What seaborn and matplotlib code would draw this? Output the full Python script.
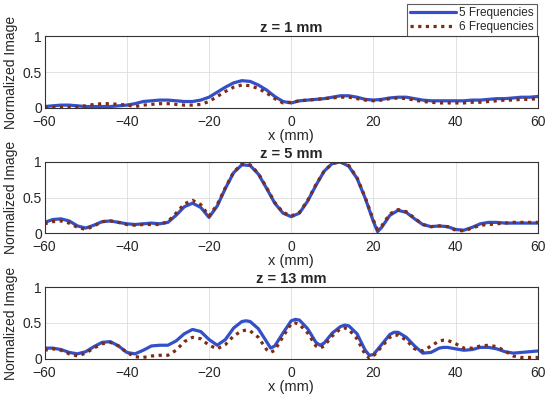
import numpy as np
import pandas as pd
import matplotlib
matplotlib.use('Agg')
import matplotlib.pyplot as plt
import seaborn as sns

# panel titles and legend labels
titles = ['z = 1 mm', 'z = 5 mm', 'z = 13 mm']
labels = ['5 Frequencies', '6 Frequencies']

# z = 1 mm
x1 = list(range(-60, 61, 2))
f5_z1 = [0.02, 0.03, 0.04, 0.04, 0.03, 0.02, 0.02, 0.02, 0.02, 0.03,
         0.04, 0.06, 0.09, 0.10, 0.11, 0.11, 0.10, 0.09, 0.09, 0.11,
         0.15, 0.22, 0.29, 0.35, 0.38, 0.37, 0.32, 0.25, 0.16, 0.09,
         0.07, 0.10, 0.11, 0.12, 0.13, 0.15, 0.17, 0.17, 0.15, 0.12,
         0.11, 0.12, 0.14, 0.15, 0.15, 0.13, 0.11, 0.10, 0.10, 0.10,
         0.10, 0.10, 0.11, 0.11, 0.12, 0.13, 0.13, 0.14, 0.15, 0.15,
         0.16]
f6_z1 = [0.01, 0.01, 0.01, 0.01, 0.02, 0.03, 0.05, 0.06, 0.06, 0.05,
         0.04, 0.02, 0.04, 0.05, 0.06, 0.06, 0.05, 0.04, 0.04, 0.05,
         0.09, 0.16, 0.23, 0.29, 0.32, 0.31, 0.27, 0.21, 0.13, 0.07,
         0.08, 0.10, 0.11, 0.12, 0.13, 0.14, 0.15, 0.15, 0.13, 0.11,
         0.10, 0.11, 0.13, 0.14, 0.13, 0.11, 0.09, 0.08, 0.07, 0.07,
         0.07, 0.07, 0.08, 0.08, 0.09, 0.10, 0.11, 0.11, 0.12, 0.12,
         0.13]

# z = 5 mm
x2 = [-60, -58, -56, -54, -52, -50, -48, -46, -44, -42,
      -40, -38, -36, -34, -32, -30, -28, -26, -24, -22,
      -20, -18, -16, -14, -12, -10, -8, -6, -4, -2,
      0, 2, 4, 6, 8, 10, 12, 14, 16, 18,
      20, 21, 22, 24, 26, 28, 30, 32, 34, 36,
      38, 40, 42, 44, 46, 48, 50, 52, 54, 56,
      58, 60]
f5_z5 = [0.15, 0.19, 0.20, 0.17, 0.10, 0.07, 0.11, 0.16, 0.17, 0.15,
         0.13, 0.12, 0.13, 0.14, 0.13, 0.15, 0.25, 0.37, 0.42, 0.36,
         0.22, 0.38, 0.63, 0.85, 0.96, 0.95, 0.83, 0.63, 0.42, 0.28,
         0.23, 0.28, 0.45, 0.67, 0.87, 0.98, 1.00, 0.94, 0.77, 0.49,
         0.16, 0.02, 0.08, 0.25, 0.32, 0.29, 0.20, 0.12, 0.09, 0.10,
         0.09, 0.05, 0.04, 0.08, 0.13, 0.15, 0.15, 0.14, 0.14, 0.14,
         0.14, 0.14]
f6_z5 = [0.13, 0.16, 0.17, 0.14, 0.08, 0.05, 0.10, 0.16, 0.17, 0.15,
         0.12, 0.11, 0.12, 0.12, 0.12, 0.16, 0.28, 0.41, 0.46, 0.40,
         0.24, 0.40, 0.64, 0.86, 0.97, 0.96, 0.84, 0.64, 0.43, 0.29,
         0.24, 0.29, 0.46, 0.68, 0.87, 0.98, 1.00, 0.95, 0.78, 0.50,
         0.18, 0.05, 0.10, 0.27, 0.33, 0.30, 0.21, 0.12, 0.09, 0.10,
         0.09, 0.04, 0.03, 0.07, 0.11, 0.12, 0.13, 0.14, 0.15, 0.15,
         0.15, 0.15]

# z = 13 mm
x3 = [-60, -58, -56, -54, -52, -50, -48, -46, -44, -42,
      -40, -38, -36, -34, -32, -30, -28, -26, -24, -22,
      -20, -18, -16, -14, -12, -11, -10, -8, -6, -5,
      -4, -2, 0, 1, 2, 4, 6, 7, 8, 10,
      12, 13, 14, 16, 18, 19, 20, 22, 24, 25,
      26, 28, 30, 32, 34, 36, 37, 38, 40, 42,
      44, 46, 48, 50, 52, 54, 56, 58, 60]
f5_z13 = [0.15, 0.15, 0.13, 0.09, 0.07, 0.10, 0.17, 0.23, 0.24, 0.18,
          0.09, 0.07, 0.12, 0.18, 0.19, 0.19, 0.25, 0.35, 0.41, 0.38,
          0.27, 0.19, 0.27, 0.43, 0.52, 0.53, 0.52, 0.42, 0.24, 0.15,
          0.18, 0.36, 0.53, 0.55, 0.54, 0.42, 0.23, 0.19, 0.22, 0.36,
          0.45, 0.47, 0.46, 0.35, 0.12, 0.05, 0.06, 0.20, 0.34, 0.37,
          0.37, 0.30, 0.18, 0.08, 0.09, 0.15, 0.16, 0.16, 0.14, 0.12,
          0.13, 0.16, 0.16, 0.14, 0.10, 0.08, 0.09, 0.10, 0.11]
f6_z13 = [0.12, 0.14, 0.12, 0.07, 0.04, 0.08, 0.15, 0.21, 0.23, 0.18,
          0.09, 0.03, 0.02, 0.04, 0.05, 0.05, 0.12, 0.24, 0.30, 0.28,
          0.19, 0.14, 0.20, 0.32, 0.39, 0.40, 0.39, 0.30, 0.13, 0.09,
          0.12, 0.31, 0.49, 0.50, 0.48, 0.36, 0.18, 0.15, 0.18, 0.32,
          0.42, 0.43, 0.41, 0.28, 0.06, 0.01, 0.04, 0.17, 0.30, 0.33,
          0.33, 0.26, 0.14, 0.11, 0.18, 0.25, 0.26, 0.26, 0.21, 0.15,
          0.15, 0.18, 0.19, 0.17, 0.11, 0.04, 0.02, 0.02, 0.02]

panels = [(x1, f5_z1, f6_z1), (x2, f5_z5, f6_z5), (x3, f5_z13, f6_z13)]

sns.set_style('whitegrid')
plt.rcParams['font.family'] = ['Liberation Sans', 'DejaVu Sans']

fig = plt.figure(figsize=(5.5, 3.97), dpi=100)
# axes boxes in figure fractions (left, bottom, width, height)
boxes = [(0.081, 0.728, 0.897, 0.181),
         (0.081, 0.413, 0.897, 0.179),
         (0.081, 0.096, 0.897, 0.181)]

blue = '#3350c8'
red = '#7e2c14'

for (xs, a, b), title, box in zip(panels, titles, boxes):
    ax = fig.add_axes(box)
    df = pd.DataFrame({'x': xs, 'a': a, 'b': b})
    sns.lineplot(data=df, x='x', y='a', ax=ax, color=blue, lw=2.3,
                 label=labels[0], legend=False)
    sns.lineplot(data=df, x='x', y='b', ax=ax, color=red, lw=2.3,
                 linestyle=(0, (1, 1.4)), label=labels[1], legend=False)
    ax.set_xlim(-60, 60)
    ax.set_ylim(0, 1)
    ax.set_xticks(range(-60, 61, 20))
    ax.set_yticks([0, 0.5, 1])
    ax.set_yticklabels(['0', '0.5', '1'])
    ax.set_title(title, fontsize=10.5, fontweight='bold', pad=3)
    ax.set_xlabel('x (mm)', fontsize=10.5, labelpad=0)
    ax.set_ylabel('Normalized Image', fontsize=10, labelpad=3)
    ax.tick_params(labelsize=10, direction='in', length=3,
                   color='#333333')
    ax.tick_params(axis='x', pad=5)
    ax.tick_params(axis='y', pad=2)
    ax.grid(color='#dddddd', lw=0.6)
    for s in ax.spines.values():
        s.set_color('#333333')
        s.set_linewidth(0.8)
    if title == titles[0]:
        handles, labs = ax.get_legend_handles_labels()

leg = fig.legend(handles, labs, loc='upper right',
                 bbox_to_anchor=(537 / 550, 1 - 4 / 397), borderaxespad=0,
                 fontsize=8.5, frameon=True, fancybox=False, handlelength=3.9,
                 handletextpad=0.3, labelspacing=0.15, borderpad=0.25)
leg.get_frame().set_edgecolor('#333333')
leg.get_frame().set_linewidth(0.8)

fig.savefig('out.png', dpi=100)
